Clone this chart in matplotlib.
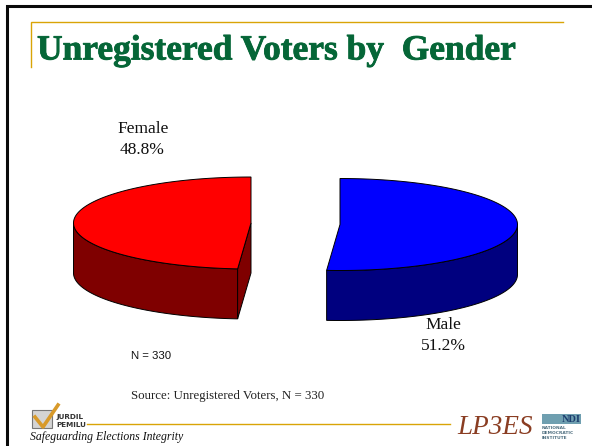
import numpy as np
import matplotlib
matplotlib.use("Agg")
import matplotlib.pyplot as plt
import matplotlib.patheffects as pe
from matplotlib.patches import Polygon, Rectangle

categories = ["Female", "Male"]
shares = [48.8, 51.2]
top_colors = ["#ff0000", "#0000ff"]
side_colors = ["#7f0000", "#00007f"]
title = "Unregistered Voters by  Gender"
source = "Source: Unregistered Voters, N = 330"
n_note = "N = 330"
tagline = "Safeguarding Elections Integrity"

W, H = 592, 446
fig = plt.figure(figsize=(W / 100, H / 100), dpi=100, facecolor="white")
ax = fig.add_axes([0, 0, 1, 1])
ax.set_xlim(0, W)
ax.set_ylim(H, 0)
ax.axis("off")

SERIF = "Liberation Serif"
GOLD = "#d9a406"
GREEN = "#056637"

# slide frame and rules
ax.plot([7, 7, 592], [446, 6, 6], color="#0a0a0a", lw=2.2, solid_joinstyle="miter")
ax.plot([31, 31, 563], [67, 22, 22], color=GOLD, lw=1.0, solid_joinstyle="miter")
ax.plot([87, 450], [424, 424], color=GOLD, lw=1.0)

ax.text(37, 51, title, family=SERIF, weight="bold", fontsize=25.5, color=GREEN,
        ha="left", va="center",
        path_effects=[pe.withStroke(linewidth=0.6, foreground=GREEN)])

# exploded 3-D pie, driven by the shares
RX, RY, DEPTH = 177.5, 46, 50
centres = [(251, 223), (340, 224.5)]


def ell(c, deg):
    a = np.radians(deg)
    return c[0] + RX * np.cos(a), c[1] - RY * np.sin(a)


# Female: counter-clockwise from 12 o'clock; Male: clockwise from 12 o'clock
f_end = 90 + 360 * shares[0] / 100
m_end = 90 - 360 * shares[1] / 100
slices = [
    (centres[0], np.linspace(90, f_end, 120), np.linspace(180, f_end, 80)),
    (centres[1], np.linspace(90, m_end, 120), np.linspace(m_end, 0, 80)),
]
for i, (c, top_ang, wall_ang) in enumerate(slices):
    xt, yt = ell(c, top_ang)
    xw, yw = ell(c, wall_ang)
    wall = np.r_[np.c_[xw, yw], np.c_[xw, yw + DEPTH][::-1]]
    ax.add_patch(Polygon(wall, closed=True, fc=side_colors[i], ec="black", lw=0.7, zorder=2))
    if i == 0:
        ex, ey = ell(c, f_end)
        face = [c, (ex, ey), (ex, ey + DEPTH), (c[0], c[1] + DEPTH)]
        ax.add_patch(Polygon(face, closed=True, fc=side_colors[i], ec="black", lw=0.7, zorder=2))
    top = np.r_[[c], np.c_[xt, yt]]
    ax.add_patch(Polygon(top, closed=True, fc=top_colors[i], ec="black", lw=0.7, zorder=3))

label_style = dict(family=SERIF, fontsize=12.5, ha="center", va="center", color="#111111")
ax.text(143, 129, categories[0], **label_style)
ax.text(142.5, 150, f"{shares[0]:.1f}%", **label_style)
ax.text(443, 325, categories[1], **label_style)
ax.text(443, 346, f"{shares[1]:.1f}%", **label_style)

ax.text(131, 356, n_note, family="Liberation Sans", fontsize=8.2, ha="left", va="center", color="#111111")
ax.text(131, 396, source, family=SERIF, fontsize=9.3, ha="left", va="center", color="#222222")

# footer logos
ax.add_patch(Rectangle((32, 410), 20, 18, fc="#d4d4d4", ec="#777777", lw=0.8, zorder=2))
ax.plot([35, 43, 58], [417, 427, 405], color="#d89a2a", lw=2.6, zorder=3)
ax.text(56, 417, "JURDIL", family="DejaVu Sans", weight="bold", fontsize=5.2, va="center", color="#333333")
ax.text(56, 425, "PEMILU", family="DejaVu Sans", weight="bold", fontsize=5.2, va="center", color="#333333")
ax.text(30, 437, tagline, family=SERIF, style="italic", fontsize=8.5, va="center", color="#111111")
ax.text(457, 427, "LP3ES", family=SERIF, style="italic", fontsize=19.5, va="center", color="#8a3d22")
ax.add_patch(Rectangle((542, 414), 39, 10, fc="#6f9fb0", ec="none"))
ax.text(581, 419, "NDI", family=SERIF, weight="bold", fontsize=7.5, ha="right", va="center", color="#1c3d6e")
ax.text(542, 433, "NATIONAL\nDEMOCRATIC\nINSTITUTE", family="DejaVu Sans", weight="bold",
        fontsize=3.2, va="center", color="#4f6f80", linespacing=1.3)

fig.savefig("out.png", dpi=100, facecolor="white")
